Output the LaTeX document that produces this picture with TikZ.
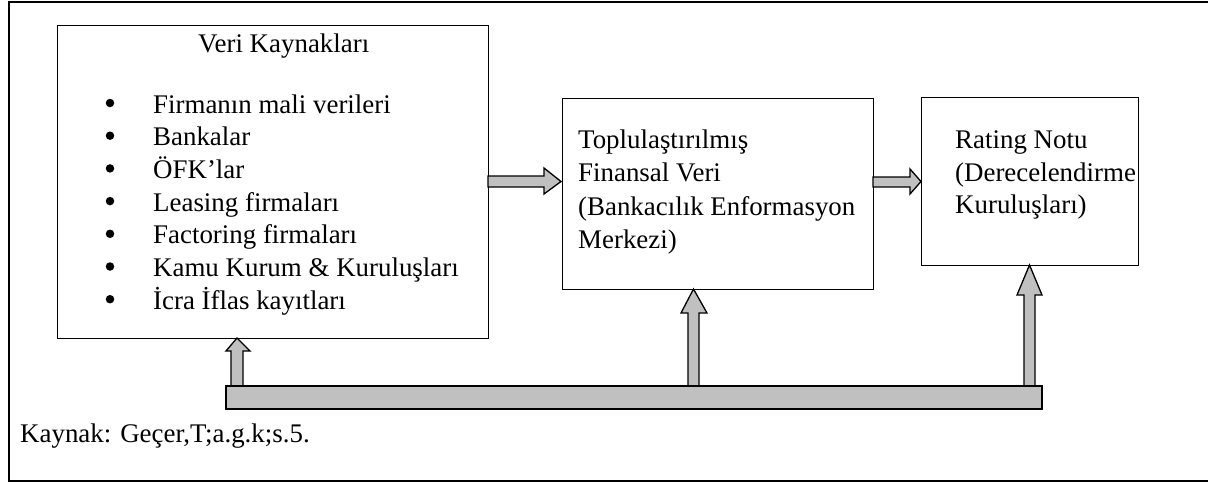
\documentclass[tikz,border=0pt]{standalone}
\usepackage{fontspec}
\setmainfont{Liberation Serif}
\definecolor{arrgray}{RGB}{192,192,192}
\begin{document}
\begin{tikzpicture}[x=1pt,y=-1pt,
  box/.style={draw,line width=1.4pt,inner sep=0pt,anchor=north west},
  txt/.style={anchor=base west,inner sep=0pt,font=\fontsize{26.9}{33}\selectfont},
  bul/.style={circle,fill,inner sep=0pt,minimum size=8.5pt},
  blk/.style={draw,line width=1.3pt,fill=arrgray,line join=miter}]
\useasboundingbox (0,0) rectangle (1208,483);
% outer frame
\draw[line width=1.3pt] (1210,2) -- (9,2) -- (9,481) -- (1210,481);
% boxes
\node[box,minimum width=431pt,minimum height=313pt] (src) at (57,25) {};
\node[box,minimum width=311pt,minimum height=191pt] (agg) at (562,98) {};
\node[box,minimum width=217pt,minimum height=168pt] (rate) at (921,97) {};
% texts in source box
\node[txt] (t0) at (198,52) {Veri Kaynakları};
\foreach \i/\s in {0/Firmanın mali verileri,1/Bankalar,2/ÖFK’lar,3/Leasing firmaları,4/Factoring firmaları,5/Kamu Kurum \& Kuruluşları,6/İcra İflas kayıtları}{
  \node[bul] (b\i) at (110,103+32.7*\i) {};
  \node[txt] (l\i) at (153,113+32.7*\i) {\s};
}
% texts in aggregate box
\node[txt] (a1) at (578,148) {Toplulaştırılmış};
\node[txt] (a2) at (578,181.5) {Finansal Veri};
\node[txt] (a3) at (578,215) {(Bankacılık Enformasyon};
\node[txt] (a4) at (578,248) {Merkezi)};
% texts in rating box
\node[txt] (r1) at (955,148) {Rating Notu};
\node[txt] (r2) at (955,181) {(Derecelendirme};
\node[txt] (r3) at (955,213) {Kuruluşları)};
% source note
\node[txt] (kay) at (20,442) {Kaynak: Geçer,T;a.g.k;s.5.};
% right arrows
\draw[blk] (488,176) -- (544,176) -- (544,168) -- (561,181.5) -- (544,194) -- (544,187) -- (488,187) -- cycle;
\draw[blk] (873,177) -- (910,177) -- (910,169) -- (921,181.5) -- (910,194) -- (910,187) -- (873,187) -- cycle;
% up arrows
\draw[blk] (231,386) -- (231,351) -- (226,351) -- (237,338) -- (250,351) -- (243,351) -- (243,386) -- cycle;
\draw[blk] (688,386) -- (688,313) -- (681,313) -- (693.5,289) -- (707,313) -- (699,313) -- (699,386) -- cycle;
\draw[blk] (1024,386) -- (1024,295) -- (1017,295) -- (1029.5,265) -- (1042,295) -- (1035,295) -- (1035,386) -- cycle;
% bottom bar
\draw[blk] (226,386) rectangle (1042,409);
\end{tikzpicture}
\end{document}
